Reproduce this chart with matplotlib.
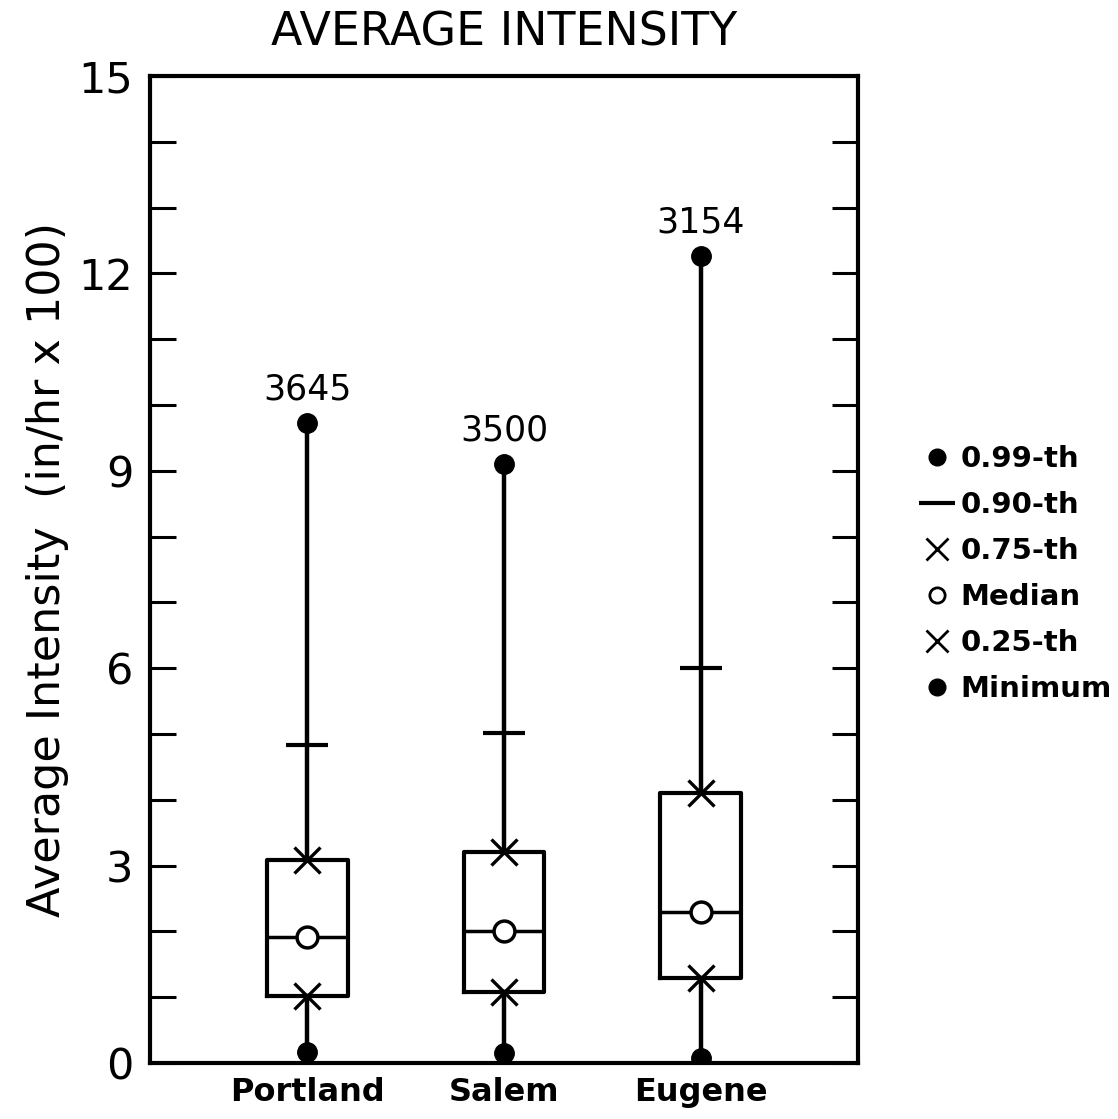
import matplotlib
matplotlib.use('Agg')
import matplotlib.pyplot as plt
from matplotlib.lines import Line2D

# percentile summary of average storm intensity (in/hr x 100)
cities = ['Portland', 'Salem', 'Eugene']
counts = [3645, 3500, 3154]
p99 = [9.73, 9.10, 12.27]
p90 = [4.84, 5.02, 6.01]
p75 = [3.08, 3.21, 4.11]
median = [1.92, 2.01, 2.30]
p25 = [1.02, 1.08, 1.29]
minimum = [0.17, 0.15, 0.08]

yticks = [0, 3, 6, 9, 12, 15]

plt.rcParams['font.family'] = 'DejaVu Sans'

fig = plt.figure(figsize=(11.18, 11.19), dpi=100)
ax = fig.add_axes([0.134, 0.050, 0.6335, 0.882])

pos = [1, 2, 3]
stats = []
for i in range(len(cities)):
    stats.append(dict(whislo=minimum[i], q1=p25[i], med=median[i],
                      q3=p75[i], whishi=p99[i], label=cities[i]))

ax.bxp(stats, positions=pos, widths=0.41, showcaps=False, showfliers=False,
       boxprops=dict(color='black', linewidth=3),
       whiskerprops=dict(color='black', linewidth=3.2),
       medianprops=dict(color='black', linewidth=2.5))

# percentile markers on top of the boxes
ax.plot(pos, p99, 'o', color='black', ms=14, zorder=5)
ax.plot(pos, minimum, 'o', color='black', ms=14, zorder=5)
ax.plot(pos, p90, '_', color='black', ms=30, mew=3, zorder=5)
ax.plot(pos, p75, 'x', color='black', ms=19, mew=2.4, zorder=5)
ax.plot(pos, p25, 'x', color='black', ms=19, mew=2.4, zorder=5)
ax.plot(pos, median, 'o', mfc='white', mec='black', ms=15, mew=2.5, zorder=6)

# sample sizes above the 0.99 points
for x, y, n in zip(pos, p99, counts):
    ax.annotate(str(n), (x, y), xytext=(0, 12), textcoords='offset points',
                ha='center', va='bottom', fontsize=25)

ax.set_xlim(0.2, 3.8)
ax.set_ylim(0, 15)
ax.set_yticks(yticks)
ax.set_yticks(range(16), minor=True)
ax.tick_params(axis='y', which='both', direction='in', left=True, right=True,
               length=19, width=2.2)
ax.tick_params(axis='y', which='major', labelsize=31, pad=12)
ax.tick_params(axis='x', length=0, labelsize=23, pad=10)
for lab in ax.get_xticklabels():
    lab.set_fontweight('bold')
for sp in ax.spines.values():
    sp.set_linewidth(3)

ax.set_ylabel('Average Intensity  (in/hr x 100)', fontsize=32, labelpad=7)
ax.set_title('AVERAGE INTENSITY', fontsize=33, pad=22)

handles = [
    Line2D([], [], marker='o', color='black', ls='none', ms=12),
    Line2D([], [], marker='_', color='black', ls='none', ms=26, mew=3),
    Line2D([], [], marker='x', color='black', ls='none', ms=16, mew=2),
    Line2D([], [], marker='o', mfc='white', mec='black', ls='none', ms=11, mew=2),
    Line2D([], [], marker='x', color='black', ls='none', ms=16, mew=2),
    Line2D([], [], marker='o', color='black', ls='none', ms=12),
]
labels = ['0.99-th', '0.90-th', '0.75-th', 'Median', '0.25-th', 'Minimum']
fig.legend(handles, labels, loc='upper left', bbox_to_anchor=(0.815, 0.613),
           frameon=False, handlelength=1.0, handletextpad=0.3,
           labelspacing=0.62, borderaxespad=0,
           prop=dict(size=21, weight='bold'))

fig.savefig('out.png', dpi=100)
